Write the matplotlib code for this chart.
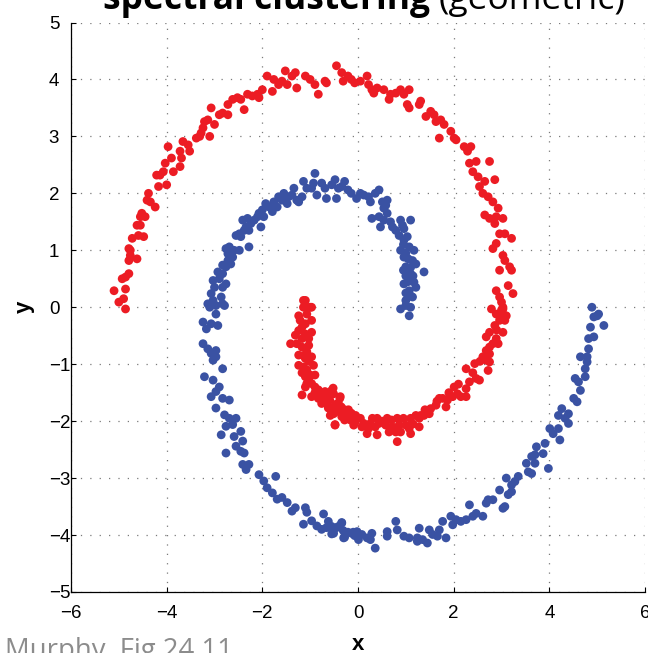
import matplotlib
matplotlib.use("Agg")
import matplotlib.pyplot as plt
import numpy as np

# ---- data ----
red_x = [-5.10, -5.00, -4.86, -4.90, -4.86, -4.93, -4.86, -4.79, -4.79, -4.76, -4.76, -4.79, -4.72, -4.62, -4.59,
         -4.55, -4.62, -4.48, -4.55, -4.52, -4.45, -4.41, -4.38, -4.34, -4.24, -4.17, -4.14, -4.21, -4.00, -4.07,
         -4.03, -3.97, -3.90, -3.86, -3.72, -3.69, -3.72, -3.66, -3.55, -3.52, -3.38, -3.31, -3.28, -3.24, -3.21,
         -3.14, -3.10, -3.07, -3.00, -2.90, -2.83, -2.72, -2.72, -2.62, -2.52, -2.45, -2.38, -2.31, -2.21, -2.10,
         -2.00, -2.07, -1.90, -1.79, -1.76, -1.66, -1.52, -1.59, -1.48, -1.38, -1.31, -1.28, -1.10, -1.00, -0.90,
         -0.83, -0.69, -0.66, -0.45, -0.34, -0.31, -0.21, -0.14, -0.07,
         0.05, 0.19, 0.22, 0.29, 0.33, 0.40, 0.54, 0.65, 0.68, 0.79, 0.89, 0.96, 1.07, 1.03, 1.07, 1.28, 1.31,
         1.42, 1.52, 1.59, 1.63, 1.73, 1.70, 1.80, 1.94, 2.01, 2.05, 2.22, 2.29, 2.36, 2.33, 2.40, 2.47, 2.51,
         2.54, 2.61, 2.65, 2.75, 2.72, 2.82, 2.86, 2.93, 2.89, 2.65, 2.75, 3.03, 2.86, 2.96, 3.07, 3.21, 2.82,
         2.89, 3.03, 3.07, 3.17, 2.96, 3.21, 3.14, 3.24, 2.89, 2.96, 3.03, 2.79, 2.89, 3.03,
         3.00, 3.03, 3.10, 2.96, 3.07, 2.86, 3.03, 2.75, 2.68, 2.89, 2.82, 2.93, 2.68, 2.75, 2.61, 2.68, 2.75,
         2.72, 2.44, 2.26, 2.47, 2.54, 2.33, 2.26, 2.01, 2.08, 1.98, 2.15, 2.26, 1.87, 1.77, 1.70, 1.84, 1.63,
         1.52, 1.49, 1.38, 1.31, 1.21, 1.28, 1.10, 1.00, 1.07, 1.10, 1.28, 0.82, 0.86, 0.79, 0.89, 0.72, 0.65,
         0.61, 0.58, 0.44, 0.40, 0.36, 0.40, 0.26, 0.22, 0.19, 0.12, 0.08, -0.06, -0.09, -0.16, -0.23, -0.30,
         -0.37, -0.41, -0.48, -0.51, -0.62, -0.58, -0.48, -0.37, -0.51, -0.62, -0.55, 0.82,
         -1.10, -1.14, -1.00, -1.07, -1.21, -1.10, -0.97, -1.24, -1.10, -1.31, -1.17, -0.97, -1.41, -1.28, -1.17,
         -1.03, -1.07, -1.24, -1.10, -0.97, -1.24, -1.14, -1.07, -0.93, -1.10, -1.00, -0.90, -1.07, -0.97, -0.90,
         -0.83, -1.17, -0.97, -0.76, -0.69, -0.52, -0.69, -0.59, -0.76, -0.38, -0.62, -0.48, -0.55, -0.41, -0.28,
         -0.34, -0.21, -0.14, -0.07, -0.14, -0.48, -0.28, -0.66, -1.14, -1.07, -0.97, -1.24,
         -1.17, -1.03, -1.14, -1.03, -1.17, -1.03, -1.10, -0.90, -0.83, -0.62, -0.45, -0.35, -0.20, -0.05, 0.05,
         0.30, 0.50, 0.70, 0.95, 1.15, 1.40, 1.65, 1.90, 2.10, 2.40, 2.55, 2.75, 2.90, 3.00]
red_y = [0.29, 0.09, -0.03, 0.15, 0.32, 0.50, 0.53, 0.59, 0.82, 0.91, 1.00, 1.03, 1.21, 0.85, 1.26,
         1.44, 1.44, 1.24, 1.59, 1.65, 1.59, 1.88, 2.00, 1.85, 1.76, 2.12, 2.32, 2.32, 2.15, 2.38,
         2.53, 2.82, 2.62, 2.38, 2.47, 2.62, 2.74, 2.91, 2.85, 2.74, 2.97, 3.00, 3.06, 3.15, 3.26,
         3.29, 3.00, 3.50, 3.21, 3.38, 3.41, 3.38, 3.56, 3.65, 3.68, 3.65, 3.47, 3.74, 3.71, 3.74,
         3.82, 3.68, 4.06, 3.79, 4.00, 3.91, 4.15, 3.97, 3.91, 4.06, 4.12, 3.85, 4.06, 4.00, 3.91,
         3.74, 3.97, 3.94, 4.24, 4.12, 3.97, 4.06, 4.00, 3.94,
         3.97, 4.06, 3.91, 3.82, 3.76, 3.85, 3.82, 3.65, 3.74, 3.76, 3.82, 3.74, 3.82, 3.56, 3.50, 3.56, 3.62,
         3.35, 3.44, 3.38, 3.26, 3.29, 2.97, 3.21, 3.09, 2.97, 2.94, 2.82, 2.74, 2.82, 2.53, 2.38, 2.56, 2.29,
         2.12, 2.00, 2.21, 2.56, 1.94, 1.85, 2.24, 1.74, 1.59, 1.62, 1.56, 1.56, 1.47, 1.29, 1.29, 1.21, 1.03,
         1.12, 0.91, 0.82, 0.71, 0.65, 0.65, 0.38, 0.24, 0.29, 0.18, 0.00, -0.03, -0.12, -0.12,
         0.09, -0.03, -0.15, -0.23, -0.23, -0.32, -0.44, -0.44, -0.52, -0.55, -0.64, -0.64, -0.76, -0.82, -0.87, -0.93, -0.96,
         -1.11, -0.99, -1.08, -1.25, -1.28, -1.31, -1.43, -1.40, -1.52, -1.57, -1.57, -1.57, -1.63, -1.60, -1.60, -1.75, -1.72,
         -1.78, -1.87, -1.90, -1.90, -1.90, -1.95, -1.95, -2.07, -2.13, -2.22, -2.10, -1.95, -2.07, -2.19, -2.19, -2.10, -2.19,
         -1.95, -2.07, -2.04, -1.95, -2.10, -2.24, -2.04, -2.13, -2.22, -2.04, -2.10, -1.98, -2.07, -1.98, -1.90, -1.90,
         -1.78, -1.69, -1.75, -1.87, -1.75, -1.90, -2.07, -1.57, -1.52, -1.63, -1.46, -2.36,
         0.12, 0.00, 0.00, -0.12, -0.23, -0.29, -0.23, -0.41, -0.47, -0.49, -0.55, -0.44, -0.64, -0.64, -0.70,
         -0.67, -0.78, -0.84, -0.90, -0.87, -1.02, -1.05, -1.10, -1.02, -1.22, -1.19, -1.19, -1.34, -1.34, -1.40,
         -1.45, -1.54, -1.57, -1.51, -1.48, -1.42, -1.63, -1.63, -1.69, -1.60, -1.77, -1.74, -1.86, -1.83, -1.80,
         -1.92, -1.89, -1.95, -2.03, -1.86, -2.06, -1.98, -1.57, 0.12, 0.00, 0.00, -0.15,
         -0.35, -0.55, -0.85, -0.95, -1.15, -1.25, -1.40, -1.50, -1.60, -1.55, -1.70, -1.75, -1.80, -1.90, -1.95,
         -1.95, -2.00, -1.98, -1.95, -2.05, -1.80, -1.65, -1.50, -1.35, -1.15, -0.95, -0.70, -0.40, -0.05]

blue_x = [-3.14, -3.03, -3.07, -2.97, -3.00, -3.03, -2.90, -2.93, -2.83, -2.83, -2.76, -2.86, -2.79, -2.76, -2.72,
          -2.83, -2.72, -2.69, -2.76, -2.62, -2.66, -2.59, -2.48, -2.45, -2.55, -2.48, -2.38, -2.41, -2.34, -2.28,
          -2.24, -2.31, -2.28, -2.17, -2.10, -2.07, -2.00, -2.03, -1.97, -1.93, -1.86, -1.79, -1.76, -1.69, -1.66,
          -1.59, -1.55, -1.48, -1.45, -1.38, -1.34, -1.28, -1.24, -1.17, -1.14, -1.07, -0.97, -0.90, -0.93, -0.86,
          -0.76, -0.69, -0.66, -0.55, -0.48, -0.45, -0.41, -0.34, -0.28, -0.21, -0.14, -0.03,
          0.05, 0.12, 0.22, 0.26, 0.36, 0.44, 0.51, 0.54, 0.61, 0.58, 0.29, 0.44, 0.47, 0.54, 0.61, 0.68, 0.72,
          0.79, 0.89, 0.93, 0.96, 1.10, 0.86, 0.96, 1.03, 0.89, 1.07, 1.17, 1.14, 0.96, 1.00, 1.21, 1.38, 1.10,
          1.17, 0.96, 1.07, 1.21, 1.14, 1.00, 0.89, 1.10, 1.07, 1.00,
          0.95, 1.00, 1.05, 1.00, 1.05, 1.10, 1.00, 0.95, 1.10, 1.15,
          -3.10, -2.97, -2.83, -3.24, -3.17, -3.07, -2.93, -3.24, -3.14, -3.07, -3.03, -2.97, -2.83, -2.97, -3.21,
          -3.03, -2.90, -2.97, -3.07, -2.83, -2.69, -2.97, -2.79, -2.69, -2.55, -2.86, -2.76, -2.62, -2.59, -2.45,
          -2.41, -2.55, -2.45, -2.38, -2.76, -2.41, -2.28, -2.34, -2.07, -1.97, -1.72, -1.90, -1.79, -1.69, -1.59,
          -1.48, -1.38, -1.31, -1.10, -1.07, -1.14, -0.97, -0.86, -0.72, -0.76, -0.66, -0.55, -0.45, -0.34, -0.28,
          -0.21, -0.10, -0.07, -0.31,
          4.89, 5.00, 4.93, 5.03, 5.14, 4.86, 4.93, 4.82, 4.82, 4.79, 4.65, 4.79, 4.75, 4.54, 4.61, 4.75, 4.65,
          4.51, 4.58, 4.26, 4.19, 4.40, 4.33, 4.40, 4.01, 4.19, 4.08, 4.22, 3.91, 3.73, 3.87, 3.70, 3.63, 3.52,
          3.70, 3.98, 3.56, 3.63, 3.35, 3.28, 3.21, 3.10, 3.21, 3.14, 2.96, 3.03, 3.07, 2.82, 2.72, 2.68, 2.33,
          2.47, 2.61, 2.40, 2.26, 2.15, 2.05, 1.98, 1.94, 1.77, 1.70, 1.66, 1.84, 1.49, 1.56, 1.45, 1.28, 1.24,
          1.35, 1.24, 1.07, 0.96, 0.82, 0.79, 0.61, 0.61, 0.36, 0.29, 0.26, 0.19, 0.08, 0.01, -0.02, -0.13,
          -0.27, -0.30, -0.34, -0.41, -0.51, -0.62, -0.55]
blue_y = [0.06, 0.12, 0.24, 0.03, 0.35, 0.47, 0.50, 0.62, 0.59, 0.35, 0.41, 0.18, 0.03, 0.71, 0.82,
          0.74, 0.94, 1.06, 1.03, 0.88, 0.76, 1.00, 1.00, 1.24, 1.26, 1.29, 1.35, 1.53, 1.41, 1.35,
          1.47, 1.56, 1.06, 1.53, 1.59, 1.65, 1.71, 1.41, 1.59, 1.82, 1.76, 1.68, 1.85, 1.76, 1.94,
          1.88, 2.00, 1.82, 1.94, 1.97, 2.09, 1.88, 1.85, 1.94, 2.21, 2.09, 2.09, 2.35, 2.18, 1.97,
          2.18, 2.09, 1.91, 2.15, 2.24, 1.91, 2.09, 2.12, 2.21, 2.06, 2.00, 1.91,
          2.00, 1.97, 1.94, 1.85, 2.00, 2.06, 1.85, 1.74, 1.88, 1.79, 1.56, 1.59, 1.41, 1.53, 1.65, 1.50, 1.41,
          1.35, 1.53, 1.44, 1.38, 1.53, 1.26, 1.18, 1.24, 1.00, 1.06, 1.00, 0.82, 0.88, 0.71, 0.76, 0.62, 0.59,
          0.44, 0.41, 0.29, 0.35, 0.18, 0.12, -0.03, 0.00, -0.15, 0.03,
          1.10, 0.95, 0.85, 0.55, 0.45, 0.20, 0.25, 0.65, 0.70, 0.55,
          0.00, -0.12, 0.06, -0.26, -0.38, -0.29, -0.32, -0.64, -0.73, -0.81, -0.93, -0.76, -1.08, -0.87, -1.22,
          -1.28, -1.40, -1.48, -1.57, -1.60, -1.63, -1.77, -1.89, -1.95, -1.95, -2.24, -2.09, -2.06, -2.27, -2.18,
          -2.35, -2.44, -2.53, -2.56, -2.56, -2.76, -2.76, -2.85, -2.94, -3.05, -2.97, -3.17, -3.26, -3.37, -3.34,
          -3.43, -3.58, -3.52, -3.52, -3.60, -3.81, -3.75, -3.84, -3.63, -3.90, -3.87, -3.98, -3.87, -3.78, -4.04,
          -3.95, -3.95, -4.01, -3.92,
          0.00, -0.15, -0.17, -0.12, -0.32, -0.35, -0.52, -0.55, -0.73, -0.87, -0.87, -0.96, -1.08, -1.25, -1.31, -1.22, -1.46,
          -1.60, -1.66, -1.78, -1.90, -1.87, -1.95, -2.04, -2.13, -2.13, -2.22, -2.33, -2.39, -2.45, -2.57, -2.59, -2.62, -2.74,
          -2.74, -2.83, -2.89, -2.92, -2.97, -3.06, -3.12, -3.00, -3.24, -3.29, -3.21, -3.53, -3.50, -3.38, -3.38, -3.44, -3.47,
          -3.62, -3.67, -3.67, -3.73, -3.76, -3.73, -3.82, -3.67, -3.76, -3.91, -4.02, -4.05, -3.91, -3.99, -4.14, -3.88, -4.05,
          -4.08, -4.11, -4.05, -4.02, -3.91, -3.76, -3.94, -4.02, -4.23, -3.97, -4.08, -4.05, -3.99, -4.08, -3.94, -3.97,
          -3.97, -4.05, -3.79, -3.85, -3.97, -3.76, -3.85]

x_ticks = [-6, -4, -2, 0, 2, 4, 6]
y_ticks = [-5, -4, -3, -2, -1, 0, 1, 2, 3, 4, 5]

RED = "#EC1C24"
BLUE = "#3A52A3"

W, H = 648, 653
fig = plt.figure(figsize=(W / 100, H / 100), dpi=100)
ax_l, ax_r, ax_t, ax_b = 71, 645, 22.5, 592
ax = fig.add_axes([ax_l / W, 1 - ax_b / H, (ax_r - ax_l) / W, (ax_b - ax_t) / H])

ax.scatter(red_x, red_y, s=40, c=RED, edgecolors="none", zorder=3)
ax.scatter(blue_x, blue_y, s=40, c=BLUE, edgecolors="none", zorder=3)

ax.set_xlim(-6, 6)
ax.set_ylim(-5, 5)
ax.set_xticks(x_ticks)
ax.set_yticks(y_ticks)
tick_font = dict(family="Liberation Sans", size=13.5)
ax.set_xticklabels([f"{t}".replace("-", "\u2212") for t in x_ticks], fontdict=tick_font)
ax.set_yticklabels([f"{t}".replace("-", "\u2212") for t in y_ticks], fontdict=tick_font)
ax.tick_params(direction="in", length=3.5, width=0.8)
ax.tick_params(axis="x", pad=9)
ax.tick_params(axis="y", pad=16)
for lab in ax.get_yticklabels():
    lab.set_horizontalalignment("left")
ax.grid(True, color="#7a7a7a", linestyle=(0, (1.0, 6.5)), linewidth=0.9)
ax.set_axisbelow(True)
for s in ["top", "right"]:
    ax.spines[s].set_visible(False)
for s in ["left", "bottom"]:
    ax.spines[s].set_linewidth(0.9)

ax.set_xlabel("x", fontdict=dict(family="Liberation Sans", size=16, weight="bold"), labelpad=9)
ax.set_ylabel("y", fontdict=dict(family="Liberation Sans", size=16, weight="bold"), labelpad=10)

# Title: bold + regular parts
renderer = fig.canvas.get_renderer()
title_base = 1 - 9 / H
t1 = fig.text(103 / W, title_base, "spectral clustering", family="Open Sans", weight="bold",
              size=25.5, ha="left", va="baseline")
bb = t1.get_window_extent(renderer)
fig.text(bb.x1 / fig.bbox.width + 9 / W, title_base, "(geometric)", family="Open Sans",
         weight="normal", size=25.5, ha="left", va="baseline")

fig.text(5 / W, 1 - 658 / H, "Murphy, Fig 24.11", family="Open Sans", size=19.8,
         color="#8c8c8c", ha="left", va="baseline")

fig.savefig("out.png", dpi=100)
